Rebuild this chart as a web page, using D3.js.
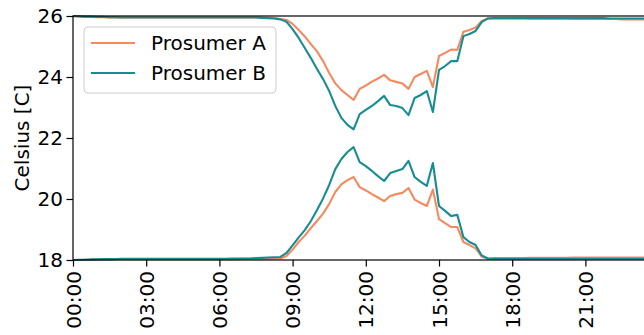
<!DOCTYPE html>
<html>
<head>
<meta charset="utf-8">
<script src="https://cdn.jsdelivr.net/npm/d3@7"></script>
<style>
  html, body { margin: 0; padding: 0; background: #fff; }
  svg { display: block; font-family: "DejaVu Sans", sans-serif; }
</style>
</head>
<body>
<svg id="chart" width="644" height="335"></svg>
<script>
// Indoor temperature comfort band per prosumer, 15-minute steps over one day.
const seriesNames = ["Prosumer A", "Prosumer B"];
const seriesColors = ["#f58a60", "#178d92"];

const prosumerAUpper = [
  25.99,25.98,25.97,25.97,25.96,25.96,25.95,25.95,25.95,25.95,25.95,25.95,
  25.95,25.95,25.95,25.95,25.95,25.95,25.95,25.95,25.95,25.95,25.95,25.95,
  25.95,25.95,25.95,25.95,25.95,25.95,25.95,25.94,25.94,25.93,25.90,25.87,
  25.74,25.54,25.33,25.08,24.84,24.52,24.13,23.79,23.57,23.41,23.25,23.61,
  23.72,23.85,23.95,24.07,23.89,23.84,23.79,23.61,24.00,24.10,24.20,23.67,
  24.69,24.79,24.90,24.89,25.48,25.54,25.62,25.84,25.92,25.92,25.92,25.92,
  25.92,25.92,25.92,25.91,25.91,25.91,25.91,25.91,25.91,25.91,25.90,25.90,
  25.90,25.90,25.90,25.90,25.90,25.90,25.89,25.89,25.89,25.89,25.89,25.89
];
const prosumerALower = [
  18.00,18.00,18.01,18.01,18.02,18.02,18.02,18.03,18.03,18.03,18.03,18.03,
  18.03,18.03,18.03,18.03,18.03,18.03,18.03,18.03,18.03,18.03,18.03,18.03,
  18.03,18.03,18.03,18.03,18.04,18.04,18.04,18.04,18.04,18.05,18.05,18.13,
  18.34,18.59,18.80,19.05,19.28,19.52,19.84,20.23,20.48,20.62,20.72,20.39,
  20.28,20.16,20.05,19.93,20.10,20.16,20.20,20.36,19.98,19.87,19.77,20.31,
  19.34,19.21,19.08,19.08,18.59,18.49,18.38,18.11,18.05,18.06,18.06,18.06,
  18.06,18.06,18.06,18.07,18.07,18.07,18.07,18.07,18.07,18.07,18.08,18.08,
  18.08,18.08,18.08,18.08,18.08,18.08,18.08,18.08,18.08,18.08,18.08,18.08
];
const prosumerBUpper = [
  26.00,25.99,25.98,25.98,25.97,25.97,25.96,25.96,25.95,25.95,25.95,25.95,
  25.95,25.95,25.95,25.95,25.95,25.95,25.95,25.95,25.95,25.95,25.95,25.95,
  25.95,25.95,25.95,25.95,25.95,25.95,25.95,25.94,25.93,25.92,25.89,25.81,
  25.57,25.28,24.95,24.62,24.26,23.93,23.54,23.05,22.66,22.43,22.28,22.78,
  22.92,23.05,23.21,23.38,23.08,23.05,22.98,22.75,23.31,23.41,23.54,22.85,
  24.23,24.36,24.52,24.52,25.34,25.41,25.51,25.80,25.92,25.93,25.93,25.93,
  25.93,25.93,25.93,25.93,25.93,25.93,25.93,25.93,25.93,25.93,25.93,25.93,
  25.93,25.93,25.93,25.93,25.92,25.92,25.92,25.92,25.92,25.92,25.92,25.92
];
const prosumerBLower = [
  18.00,18.01,18.01,18.02,18.02,18.03,18.03,18.03,18.04,18.04,18.04,18.04,
  18.04,18.04,18.04,18.04,18.04,18.04,18.04,18.04,18.04,18.04,18.04,18.04,
  18.04,18.04,18.05,18.05,18.05,18.05,18.06,18.07,18.08,18.09,18.10,18.23,
  18.48,18.74,18.98,19.28,19.64,20.02,20.46,20.98,21.31,21.54,21.70,21.21,
  21.08,20.92,20.75,20.59,20.85,20.92,20.98,21.25,20.72,20.56,20.43,21.18,
  19.77,19.61,19.44,19.48,18.75,18.59,18.49,18.15,18.05,18.04,18.04,18.04,
  18.04,18.04,18.04,18.04,18.04,18.04,18.04,18.04,18.04,18.04,18.04,18.04,
  18.04,18.04,18.04,18.04,18.04,18.04,18.04,18.04,18.04,18.04,18.04,18.04
];

const xTickHours = [0, 3, 6, 9, 12, 15, 18, 21];
const xTickLabels = ["00:00", "03:00", "06:00", "09:00", "12:00", "15:00", "18:00", "21:00"];
const yTickValues = [18, 20, 22, 24, 26];
const yLabel = "Celsius [C]";

// Time of each sample in hours (15-minute resolution)
const hours = prosumerAUpper.map((_, i) => i * 0.25);

const svg = d3.select("#chart");
const margin = { left: 73, top: 16 };
const plotW = 579.5, plotH = 244;
const fontSize = 20;

const x = d3.scaleLinear().domain([0, hours[hours.length - 1]]).range([0, plotW]);
const y = d3.scaleLinear().domain([18, 26]).range([plotH, 0]);

const g = svg.append("g").attr("transform", `translate(${margin.left},${margin.top})`);

// Data lines
const line = d3.line().x((d, i) => x(hours[i])).y(d => y(d));
const groups = [
  [prosumerAUpper, prosumerALower],
  [prosumerBUpper, prosumerBLower]
];
groups.forEach((pair, k) => {
  pair.forEach(vals => {
    g.append("path")
      .datum(vals)
      .attr("fill", "none")
      .attr("stroke", seriesColors[k])
      .attr("stroke-width", 2.1)
      .attr("stroke-linejoin", "round")
      .attr("d", line);
  });
});

// Frame
g.append("rect")
  .attr("x", 0).attr("y", 0)
  .attr("width", plotW).attr("height", plotH)
  .attr("fill", "none").attr("stroke", "#000").attr("stroke-width", 1.2);

// Y axis
const yAxis = g.append("g")
  .call(d3.axisLeft(y).tickValues(yTickValues).tickFormat(d3.format("d"))
    .tickSize(6.5).tickPadding(3.5).tickSizeOuter(0));
yAxis.select(".domain").remove();
yAxis.selectAll("line").attr("stroke", "#000").attr("stroke-width", 1.2);
yAxis.selectAll("text").attr("font-size", fontSize).attr("fill", "#000")
  .attr("font-family", "DejaVu Sans, sans-serif");

// X axis with vertical labels
const xAxis = g.append("g").attr("transform", `translate(0,${plotH})`)
  .call(d3.axisBottom(x).tickValues(xTickHours)
    .tickFormat((d, i) => xTickLabels[i])
    .tickSize(6.5).tickSizeOuter(0));
xAxis.select(".domain").remove();
xAxis.selectAll("line").attr("stroke", "#000").attr("stroke-width", 1.2);
xAxis.selectAll("text")
  .attr("font-size", fontSize).attr("fill", "#000")
  .attr("font-family", "DejaVu Sans, sans-serif")
  .attr("transform", "rotate(-90)")
  .attr("x", -11).attr("y", 0).attr("dy", "0.35em")
  .attr("text-anchor", "end");

// Y axis title
svg.append("text")
  .attr("transform", `translate(28.5,${margin.top + plotH / 2}) rotate(-90)`)
  .attr("text-anchor", "middle")
  .attr("font-size", fontSize)
  .attr("fill", "#000")
  .text(yLabel);

// Legend
const legend = svg.append("g").attr("transform", "translate(84,27)");
legend.append("rect")
  .attr("width", 192).attr("height", 66).attr("rx", 4)
  .attr("fill", "#fff").attr("fill-opacity", 0.8)
  .attr("stroke", "#cccccc").attr("stroke-width", 1);
seriesNames.forEach((name, i) => {
  const row = legend.append("g").attr("transform", `translate(0,${16 + i * 30})`);
  row.append("line").attr("x1", 7).attr("x2", 51).attr("y1", 0).attr("y2", 0)
    .attr("stroke", seriesColors[i]).attr("stroke-width", 2.1);
  row.append("text").attr("x", 67).attr("y", 0).attr("dy", "0.35em")
    .attr("font-size", fontSize).attr("fill", "#000").text(name);
});
</script>
</body>
</html>
